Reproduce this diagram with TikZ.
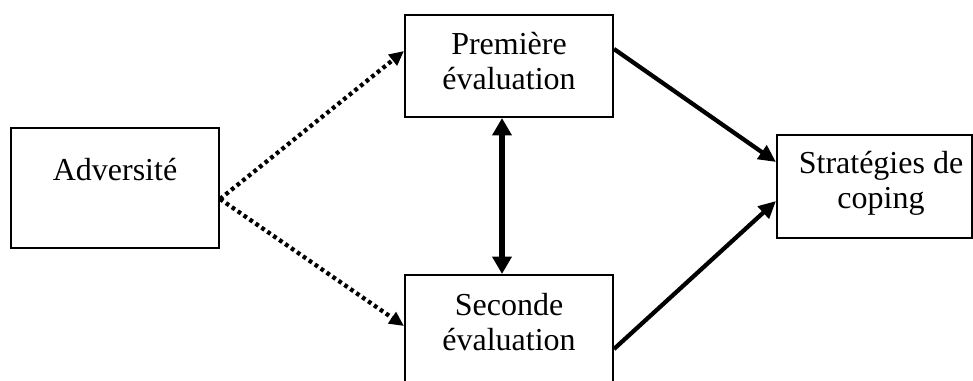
\documentclass[tikz,border=0pt]{standalone}
\usepackage{fontspec}
\setmainfont{Liberation Serif}
\usetikzlibrary{arrows.meta,calc}
\begin{document}
\begin{tikzpicture}[x=0.75pt,y=-0.75pt,
 box/.style={draw,line width=1.5pt,inner sep=0pt},
 lbl/.style={font=\fontsize{24}{26.25}\selectfont,align=center,anchor=base,inner sep=0pt},
 solidarrow/.style={line width=3.2pt,-{Triangle[length=13pt,width=12pt]}},
 dotarrow/.style={line width=3.2pt,dash pattern=on 2.8pt off 2.6pt,-{Triangle[length=11pt,width=10pt]}},
 biarrow/.style={line width=4.5pt,{Triangle[length=13pt,width=14pt]}-{Triangle[length=13pt,width=14pt]}}]
\useasboundingbox (0,0) rectangle (973,381);
\clip (0,0) rectangle (973,381);
\node[box,minimum width=156pt,minimum height=90pt] (adv) at (115,188) {};
\node[box,minimum width=156pt,minimum height=76.5pt] (prem) at (509,66) {};
\node[box,minimum width=156pt,minimum height=108.75pt] (sec) at (509,347.5) {};
\node[box,minimum width=146.25pt,minimum height=77.25pt] (strat) at (874.5,186.5) {};
\node[lbl] (tA) at (115,180) {Adversité};
\node[lbl] (tP) at (509,90) {Première\\évaluation};
\node[lbl] (tS) at (509,350) {Seconde\\évaluation};
\node[lbl] (tC) at (881,208) {Stratégies de\\coping};
\draw[dotarrow] ($(adv.north east)+(0,72)$) -- ($(prem.north west)+(0,37)$);
\draw[dotarrow] ($(adv.north east)+(0,72)$) -- ($(sec.north west)+(0,52)$);
\draw[solidarrow] ($(prem.north east)+(0,35)$) -- ($(strat.north west)+(0,28)$);
\draw[solidarrow] ($(sec.north east)+(0,75)$) -- ($(strat.north west)+(0,67)$);
\draw[biarrow] ($(prem.south west)+(98,0)$) -- ($(sec.north west)+(98,0)$);
\end{tikzpicture}
\end{document}
